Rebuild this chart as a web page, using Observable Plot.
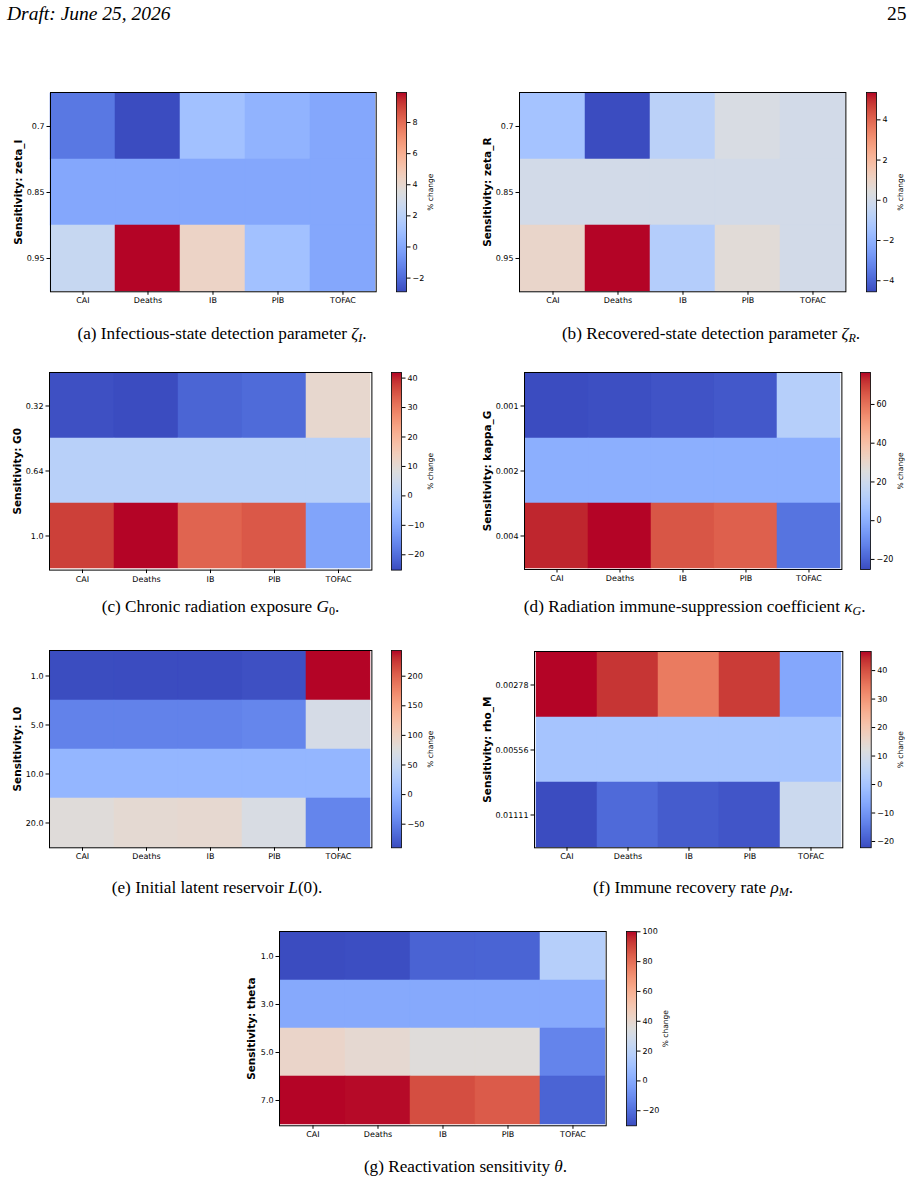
<!DOCTYPE html>
<html><head><meta charset="utf-8">
<script src="https://cdn.jsdelivr.net/npm/d3@7"></script>
<script src="https://cdn.jsdelivr.net/npm/@observablehq/plot@0.6"></script>
<style>
body{margin:0;background:#fff;}
#page{position:relative;width:915px;height:1182px;background:#fff;overflow:hidden;}
.abs{position:absolute;}
.abs svg{max-width:none !important;}
.hdr{position:absolute;font-family:"Liberation Serif","DejaVu Serif",serif;font-size:19.5px;line-height:1;color:#000;white-space:nowrap;}
.cap{position:absolute;font-family:"Liberation Serif","DejaVu Serif",serif;font-size:17.2px;line-height:1;white-space:nowrap;transform:translateX(-50%);color:#000;}
.cap sub{font-size:70%;vertical-align:baseline;position:relative;top:0.3em;}
</style></head>
<body><div id="page"></div>
<script>
// ---------- data ----------
const outcomes = ["CAI", "Deaths", "IB", "PIB", "TOFAC"];

const zetaI_levels = ["0.7", "0.85", "0.95"];
const zetaI_change = [
  [-1.6, -2.88, 1.1, 0.45, 0.0],
  [0, 0, 0, 0, 0],
  [2.5, 9.93, 4.3, 1.1, 0.0]
];
const zetaI_ticks = [-2, 0, 2, 4, 6, 8];

const zetaR_levels = ["0.7", "0.85", "0.95"];
const zetaR_change = [
  [-1.4, -4.55, -0.75, 0.2, 0.0],
  [0, 0, 0, 0, 0],
  [0.9, 5.36, -0.95, 0.55, 0.0]
];
const zetaR_ticks = [-4, -2, 0, 2, 4];

const G0_levels = ["0.32", "0.64", "1.0"];
const G0_change = [
  [-24.6, -25.2, -21.5, -20.5, 11.0],
  [0, 0, 0, 0, 0],
  [37.5, 41.9, 33.0, 34.5, -10.8]
];
const G0_ticks = [-20, -10, 0, 10, 20, 30, 40];

const kappaG_levels = ["0.001", "0.002", "0.004"];
const kappaG_change = [
  [-25.2, -24.6, -23.5, -22.5, 12.4],
  [0, 0, 0, 0, 0],
  [73.5, 76.5, 65.8, 63.8, -16.0]
];
const kappaG_ticks = [-20, 0, 20, 40, 60];

const L0_levels = ["1.0", "5.0", "10.0", "20.0"];
const L0_change = [
  [-89.5, -89.9, -89.7, -87.0, 243.4],
  [-48.0, -48.0, -48.0, -45.0, 66.8],
  [0, 0, 0, 0, 0],
  [80.0, 86.0, 88.0, 70.0, -46.0]
];
const L0_ticks = [-50, 0, 50, 100, 150, 200];

const rhoM_levels = ["0.00278", "0.00556", "0.01111"];
const rhoM_change = [
  [46.7, 43.3, 34.3, 42.6, -6.7],
  [0, 0, 0, 0, 0],
  [-22.2, -17.5, -19.8, -20.8, 7.8]
];
const rhoM_ticks = [-20, -10, 0, 10, 20, 30, 40];

const theta_levels = ["1.0", "3.0", "5.0", "7.0"];
const theta_change = [
  [-30.1, -29.5, -23.5, -23.2, 18.1],
  [0, 0, 0, 0, 0],
  [42.0, 39.0, 36.0, 36.0, -13.0],
  [100.2, 99.5, 88.5, 85.2, -23.0]
];
const theta_ticks = [-20, 0, 20, 40, 60, 80, 100];

// ---------- matplotlib "coolwarm" colormap ----------
const coolwarmStops = [
  [0.2298057,0.298717966,0.753683153],[0.26623388,0.353094838,0.801466763],
  [0.30386891,0.406535296,0.84495867],[0.342804478,0.458757618,0.883725899],
  [0.38301334,0.50941904,0.917387822],[0.424369608,0.558148092,0.945619588],
  [0.46666708,0.604562568,0.968154911],[0.509635204,0.648280772,0.98478814],
  [0.552953156,0.688929332,0.995375608],[0.596262162,0.726149107,0.999836203],
  [0.639176211,0.759599947,0.998151185],[0.681291281,0.788964712,0.990363227],
  [0.722193294,0.813952739,0.976574709],[0.761464949,0.834302879,0.956945269],
  [0.798691636,0.849786142,0.931688648],[0.833466556,0.860207984,0.901068838],
  [0.865395197,0.86541021,0.865395561],[0.897787179,0.848937047,0.820880546],
  [0.924127593,0.827384882,0.774508472],[0.944468518,0.800927443,0.726736146],
  [0.958852946,0.769767752,0.678007945],[0.96732803,0.734132809,0.628751763],
  [0.969954137,0.694266682,0.579375448],[0.966811177,0.650421156,0.530263762],
  [0.958003065,0.602842431,0.481775914],[0.943660866,0.551750968,0.434243684],
  [0.923944917,0.49730856,0.387970225],[0.89904617,0.439559467,0.343229596],
  [0.869186849,0.378313092,0.300267182],[0.834620542,0.312874446,0.259301199],
  [0.795631745,0.24128379,0.220525627],[0.752534934,0.157246067,0.184115123],
  [0.705673158,0.01555616,0.150232812]
].map(([r,g,b]) => d3.rgb(r*255, g*255, b*255).formatHex());
const coolwarm = d3.piecewise(d3.interpolateRgb, coolwarmStops);

const fmtMinus = d => (d < 0 ? "\u2212" + String(-d) : String(d));

// ---------- panels ----------
const panels = [
  {label:"Sensitivity: zeta_I", levels:zetaI_levels, values:zetaI_change, ticks:zetaI_ticks,
   x0:50, x1:375.7, y0:91.7, y1:291, cb0:395.7, cb1:405.7, labelX:18.3, cbLabelX:430},
  {label:"Sensitivity: zeta_R", levels:zetaR_levels, values:zetaR_change, ticks:zetaR_ticks,
   x0:519.3, x1:845.7, y0:91.7, y1:291, cb0:865.7, cb1:875.7, labelX:487.2, cbLabelX:900},
  {label:"Sensitivity: G0", levels:G0_levels, values:G0_change, ticks:G0_ticks,
   x0:49.3, x1:371.7, y0:371.7, y1:569.3, cb0:391, cb1:401, labelX:17.2, cbLabelX:430},
  {label:"Sensitivity: kappa_G", levels:kappaG_levels, values:kappaG_change, ticks:kappaG_ticks,
   x0:524.3, x1:841.7, y0:372.3, y1:569.3, cb0:860.3, cb1:870.3, labelX:487.2, cbLabelX:900},
  {label:"Sensitivity: L0", levels:L0_levels, values:L0_change, ticks:L0_ticks,
   x0:49.3, x1:371.7, y0:650, y1:847.3, cb0:391, cb1:401, labelX:17.2, cbLabelX:430},
  {label:"Sensitivity: rho_M", levels:rhoM_levels, values:rhoM_change, ticks:rhoM_ticks,
   x0:534, x1:842.3, y0:651, y1:847.3, cb0:860.3, cb1:871, labelX:487.2, cbLabelX:900},
  {label:"Sensitivity: theta", levels:theta_levels, values:theta_change, ticks:theta_ticks,
   x0:279.3, x1:606, y0:930.7, y1:1125, cb0:625.7, cb1:635.7, labelX:251.7, cbLabelX:665}
];

const page = document.getElementById("page");
function place(node, left, top, w, h) {
  const d = document.createElement("div");
  d.className = "abs";
  d.style.left = left + "px";
  d.style.top = top + "px";
  d.style.width = w + "px";
  d.style.height = h + "px";
  node.style.maxWidth = "none";
  d.appendChild(node);
  page.appendChild(d);
}

const baseStyle = {fontFamily:"'DejaVu Sans', sans-serif", fontSize:"8px", color:"#000", background:"transparent", overflow:"visible"};

for (const p of panels) {
  const ML = 70, MR = 1, MT = 1, MB = 22;
  const w = p.x1 - p.x0, h = p.y1 - p.y0;
  const table = [];
  p.levels.forEach((lv, i) => outcomes.forEach((o, j) => table.push({level: lv, outcome: o, value: p.values[i][j]})));
  const ext = d3.extent(table, d => d.value);
  const colorOpts = {type: "linear", domain: ext, interpolate: coolwarm};

  const W = w + ML + MR, H = h + MT + MB;
  const heat = Plot.plot({
    width: W, height: H,
    marginLeft: ML, marginRight: MR, marginTop: MT, marginBottom: MB,
    style: baseStyle,
    x: {type: "band", domain: outcomes, padding: 0, label: null},
    y: {type: "band", domain: p.levels, padding: 0, label: null},
    color: colorOpts,
    marks: [
      Plot.cell(table, {x: "outcome", y: "level", fill: "value", stroke: "value", strokeWidth: 0.5}),
      Plot.axisX({tickSize: 3.5, tickPadding: 2.5, label: null}),
      Plot.axisY({tickSize: 3.5, tickPadding: 2.5, label: null}),
      Plot.frame({stroke: "#000", strokeWidth: 1}),
      Plot.text([p.label], {frameAnchor: "left", dx: p.labelX - p.x0, rotate: -90, text: d => d,
        fontWeight: "bold", fontSize: 10.5, textAnchor: "middle", lineAnchor: "middle", fill: "#000"})
    ]
  });
  place(heat, p.x0 - ML, p.y0 - MT, W, H);

  const cw = p.cb1 - p.cb0, CMR = 50;
  const CW = cw + CMR + 1;
  const cb = Plot.plot({
    width: CW, height: H,
    marginLeft: 1, marginRight: CMR, marginTop: MT, marginBottom: MB,
    style: baseStyle,
    x: {domain: [0, 1], axis: null},
    y: {type: "linear", domain: ext, label: null, axis: null},
    color: colorOpts,
    marks: [
      Plot.raster({x1: 0, x2: 1, y1: ext[0], y2: ext[1], width: 2, height: 300,
        fill: (x, y) => y, imageRendering: "auto"}),
      Plot.frame({stroke: "#000", strokeWidth: 0.8}),
      Plot.axisY({anchor: "right", ticks: p.ticks, tickFormat: fmtMinus, tickSize: 3.5, tickPadding: 2.5, label: null}),
      Plot.text(["% change"], {frameAnchor: "right", dx: p.cbLabelX - p.cb1, rotate: -90, text: d => d,
        fontSize: 7.5, textAnchor: "middle", lineAnchor: "middle", fill: "#000"})
    ]
  });
  place(cb, p.cb0 - 1, p.y0 - MT, CW, H);
}

// ---------- header & captions ----------
function addText(html, cls, left, top) {
  const d = document.createElement("div");
  d.className = cls;
  d.style.left = left + "px";
  d.style.top = top + "px";
  d.innerHTML = html;
  page.appendChild(d);
  return d;
}
addText("<i>Draft: June 25, 2026</i>", "hdr", 7, 3.5);
const pn = addText("25", "hdr", 0, 3.5);
pn.style.left = "auto"; pn.style.right = (915 - 906.5) + "px";

const captions = [
  {html: "(a) Infectious-state detection parameter <i>ζ</i><sub><i>I</i></sub>.", cx: 222, base: 339},
  {html: "(b) Recovered-state detection parameter <i>ζ</i><sub><i>R</i></sub>.", cx: 711, base: 339},
  {html: "(c) Chronic radiation exposure <i>G</i><sub>0</sub>.", cx: 220.5, base: 612},
  {html: "(d) Radiation immune-suppression coefficient <i>κ</i><sub><i>G</i></sub>.", cx: 694.7, base: 612},
  {html: "(e) Initial latent reservoir <i>L</i>(0).", cx: 217, base: 893},
  {html: "(f) Immune recovery rate <i>ρ</i><sub><i>M</i></sub>.", cx: 693, base: 893},
  {html: "(g) Reactivation sensitivity <i>θ</i>.", cx: 465.5, base: 1172}
];
for (const c of captions) addText(c.html, "cap", c.cx, c.base - 14.2);
</script>
</body></html>
